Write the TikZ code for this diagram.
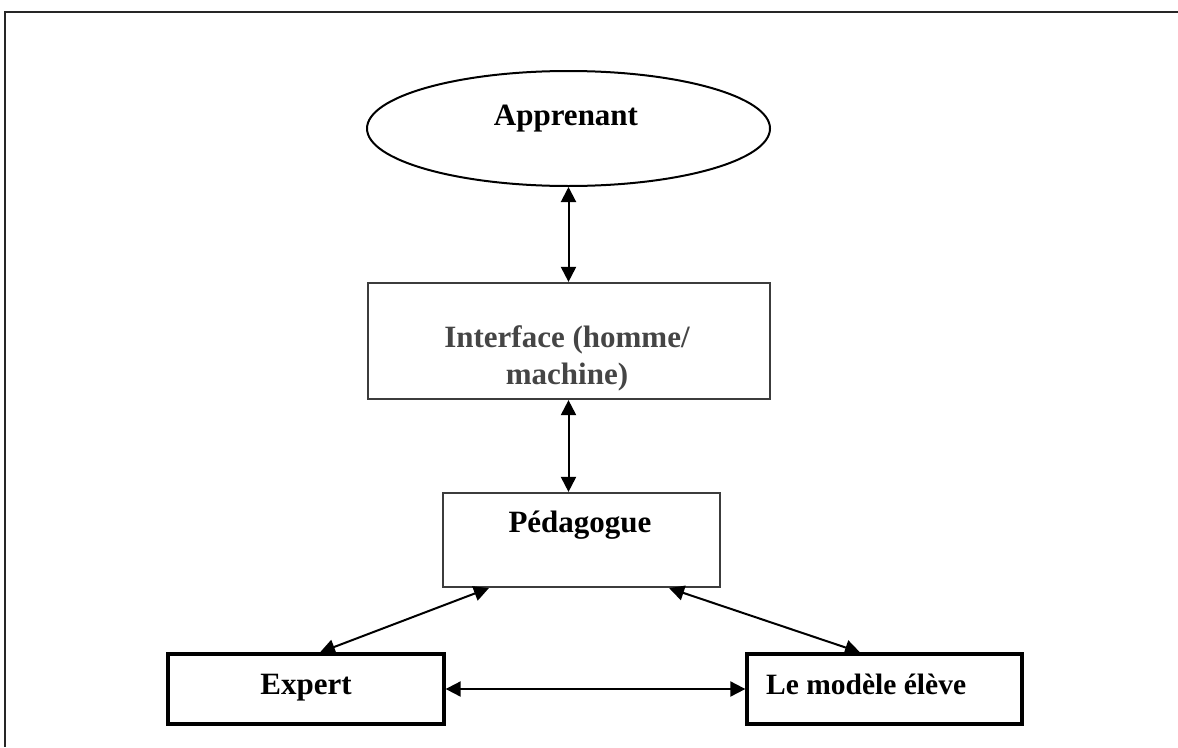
\documentclass[tikz,border=0pt]{standalone}
\usepackage{fontspec}
\setmainfont{Liberation Serif}
\usetikzlibrary{arrows.meta,shapes.geometric,calc}
\definecolor{boxgray}{HTML}{3C3C3C}
\definecolor{textgray}{HTML}{454545}
\tikzset{
  frameline/.style={line width=2.5pt,draw=black!85},
  ovalbox/.style={ellipse,draw,line width=2pt,inner sep=0pt},
  softbox/.style={rectangle,draw=boxgray,line width=2.2pt,inner sep=0pt,line cap=round},
  hardbox/.style={rectangle,draw=black,line width=3.3pt,inner sep=0pt},
  lbl/.style={anchor=base,inner sep=0pt,font=\bfseries\fontsize{31}{37}\selectfont},
  biarrow/.style={line width=2pt,{Triangle[length=15pt,width=15pt]}-{Triangle[length=15pt,width=15pt]}},
}
\begin{document}
\begin{tikzpicture}[x=1pt,y=-1pt]
  \useasboundingbox (0,0) rectangle (1178,747);
  % outer frame: top and left sides only
  \coordinate (ftl) at (5,12);
  \coordinate (ftr) at (1178,12);
  \coordinate (fbl) at (5,747);
  \draw[frameline] (ftr) -- (ftl) -- (fbl);

  % shapes
  \node[ovalbox,minimum width=403pt,minimum height=115pt] (app) at (568.5,128.5) {};
  \node[softbox,minimum width=402pt,minimum height=116pt] (iface) at (569,341) {};
  \node[softbox,minimum width=277pt,minimum height=94pt] (ped) at (581.5,540) {};
  \node[hardbox,minimum width=276pt,minimum height=70pt] (exp) at (306,689) {};
  \node[hardbox,minimum width=275pt,minimum height=70pt] (mod) at (884.5,689) {};

  % labels
  \node[lbl] (appT) at (566,125) {Apprenant};
  \node[lbl,text=textgray] (ifaceT1) at (567,347) {Interface (homme/};
  \node[lbl,text=textgray] (ifaceT2) at (567,384) {machine)};
  \node[lbl] (pedT) at (580,532) {Pédagogue};
  \node[lbl] (expT) at (306,694) {Expert};
  \node[lbl,anchor=base west,font=\bfseries\fontsize{29.5}{35}\selectfont] (modT) at (766,694) {Le modèle élève};

  % connectors
  \draw[biarrow] (app.south) -- (app.south |- iface.north);
  \draw[biarrow] (iface.south -| app.south) -- (app.south |- ped.north);
  \draw[biarrow] ([xshift=47pt]ped.south west) -- ([xshift=14pt]exp.north);
  \draw[biarrow] ([xshift=-52pt]ped.south east) -- ([xshift=-24.5pt]mod.north);
  \draw[biarrow] (exp.east) -- (mod.west);
\end{tikzpicture}
\end{document}
